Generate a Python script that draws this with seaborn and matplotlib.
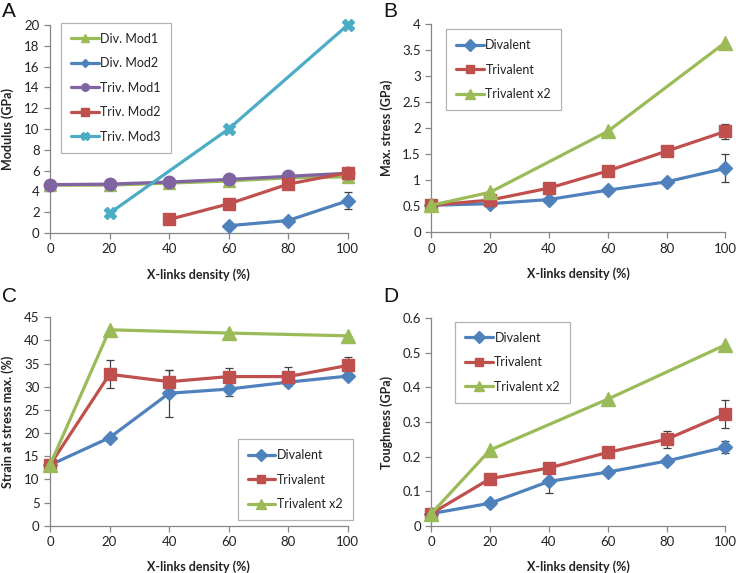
import numpy as np
import pandas as pd
import matplotlib
matplotlib.use("Agg")
import matplotlib.pyplot as plt
from matplotlib.ticker import FuncFormatter, MultipleLocator
import seaborn as sns

# ---------------- data ----------------
x_all = [0, 20, 40, 60, 80, 100]

# Panel A: Modulus (GPa)
a_div_mod1_x = [0, 20, 40, 60, 80, 100]
a_div_mod1_y = [4.6, 4.6, 4.8, 5.0, 5.3, 5.4]
a_div_mod2_x = [60, 80, 100]
a_div_mod2_y = [0.7, 1.2, 3.1]
a_div_mod2_err = [0.0, 0.0, 0.8]
a_triv_mod1_x = [0, 20, 40, 60, 80, 100]
a_triv_mod1_y = [4.65, 4.7, 4.9, 5.15, 5.45, 5.75]
a_triv_mod2_x = [40, 60, 80, 100]
a_triv_mod2_y = [1.3, 2.8, 4.7, 5.8]
a_triv_mod3_x = [20, 60, 100]
a_triv_mod3_y = [1.9, 10.0, 20.0]

# Panel B: Max. stress (GPa)
b_div_y = [0.52, 0.55, 0.63, 0.81, 0.97, 1.23]
b_div_err = [0, 0, 0, 0, 0, 0.27]
b_tri_y = [0.52, 0.62, 0.85, 1.18, 1.56, 1.94]
b_tri_err = [0, 0, 0, 0, 0, 0.14]
b_tri2_x = [0, 20, 60, 100]
b_tri2_y = [0.52, 0.77, 1.94, 3.65]

# Panel C: Strain at stress max (%)
c_div_y = [13.1, 19.0, 28.6, 29.5, 31.0, 32.3]
c_div_err = [0, 0, 5.1, 1.4, 0.6, 0.5]
c_tri_y = [13.1, 32.7, 31.1, 32.2, 32.2, 34.6]
c_tri_err = [0, 3.0, 2.6, 1.9, 2.0, 1.8]
c_tri2_x = [0, 20, 60, 100]
c_tri2_y = [13.1, 42.3, 41.6, 41.0]

# Panel D: Toughness (GPa)
d_div_y = [0.035, 0.065, 0.128, 0.155, 0.187, 0.227]
d_div_err = [0, 0, 0.033, 0, 0, 0.017]
d_tri_y = [0.035, 0.136, 0.167, 0.212, 0.250, 0.323]
d_tri_err = [0, 0, 0, 0.015, 0.025, 0.041]
d_tri2_x = [0, 20, 60, 100]
d_tri2_y = [0.035, 0.219, 0.366, 0.523]

xlabel = "X-links density (%)"

# ---------------- style ----------------
sns.set_style("ticks")
plt.rcParams["font.family"] = ["Lato", "DejaVu Sans"]

BLUE = "#4F81BD"
RED = "#C0504D"
GREEN = "#9BBB59"
PURPLE = "#8064A2"
CYAN = "#4BACC6"
AXC = "#868686"
ERRC = "#404040"

fig = plt.figure(figsize=(7.36, 5.73), dpi=100)

def make_ax(l, r, t, b):
    return fig.add_axes([l / 736, 1 - b / 573, (r - l) / 736, (b - t) / 573])

axA = make_ax(50, 347.7, 25, 233)
axB = make_ax(431.3, 725.3, 24.3, 232.3)
axC = make_ax(50, 347.7, 317.3, 525.7)
axD = make_ax(431.3, 725.3, 318.3, 525.7)

def series(ax, x, y, color, marker, ms, label, err=None):
    df = pd.DataFrame({"x": x, "y": y})
    if err is not None:
        e = np.array(err, dtype=float)
        m = e > 0
        eb = ax.errorbar(np.array(x)[m], np.array(y)[m], yerr=e[m], fmt="none",
                         ecolor=ERRC, elinewidth=0.9, capsize=3, capthick=0.9, zorder=2)
        for art in eb.lines[1] + eb.lines[2]:
            art.set_clip_on(False)
    sns.lineplot(data=df, x="x", y="y", ax=ax, color=color, marker=marker,
                 markersize=ms, markeredgecolor=color, markeredgewidth=1.0,
                 linewidth=2.3, label=label, clip_on=False, zorder=3,
                 errorbar=None, sort=False)

def style_ax(ax, ymax, ystep, ylabel):
    ax.set_xlim(0, 100)
    ax.set_ylim(0, ymax)
    ax.xaxis.set_major_locator(MultipleLocator(20))
    ax.yaxis.set_major_locator(MultipleLocator(ystep))
    ax.yaxis.set_major_formatter(FuncFormatter(lambda v, p: f"{v:g}"))
    for s in ["top", "right"]:
        ax.spines[s].set_visible(False)
    for s in ["left", "bottom"]:
        ax.spines[s].set_color(AXC)
        ax.spines[s].set_linewidth(0.9)
    ax.tick_params(axis="both", colors=AXC, labelcolor="#222222", labelsize=9.5,
                   length=4, width=0.9, direction="out")
    ax.set_xlabel(xlabel, fontsize=9, fontweight="bold", labelpad=9, color="#222222")
    ax.set_ylabel(ylabel, fontsize=9, fontweight="bold", labelpad=7, color="#222222")

def legend(ax, loc, anchor, markerscale=0.75):
    lg = ax.legend(loc=loc, bbox_to_anchor=anchor, frameon=True, fancybox=False,
                   edgecolor="#A0A0A0", fontsize=9, handlelength=2.2,
                   handletextpad=0.15, labelspacing=1.0, borderpad=0.8,
                   markerscale=markerscale, borderaxespad=0)
    lg.get_frame().set_linewidth(0.9)
    for t in lg.get_texts():
        t.set_color("#222222")
    return lg

# Panel A
series(axA, a_div_mod1_x, a_div_mod1_y, GREEN, "^", 9, "Div. Mod1")
series(axA, a_div_mod2_x, a_div_mod2_y, BLUE, "D", 7.5, "Div. Mod2", a_div_mod2_err)
series(axA, a_triv_mod1_x, a_triv_mod1_y, PURPLE, "o", 9, "Triv. Mod1")
series(axA, a_triv_mod2_x, a_triv_mod2_y, RED, "s", 8.5, "Triv. Mod2")
series(axA, a_triv_mod3_x, a_triv_mod3_y, CYAN, "X", 9, "Triv. Mod3")
style_ax(axA, 20, 2, "Modulus (GPa)")
legend(axA, "upper left", ((61 - 50) / 297.7, 1 - (22.7 - 25) / 208), markerscale=0.6)

# Panel B
series(axB, x_all, b_div_y, BLUE, "D", 7.5, "Divalent", b_div_err)
series(axB, x_all, b_tri_y, RED, "s", 8.5, "Trivalent", b_tri_err)
series(axB, b_tri2_x, b_tri2_y, GREEN, "^", 10, "Trivalent x2")
style_ax(axB, 4, 0.5, "Max. stress (GPa)")
legend(axB, "upper left", ((446 - 431.3) / 294, 1 - (29 - 24.3) / 208))

# Panel C
series(axC, x_all, c_div_y, BLUE, "D", 7.5, "Divalent", c_div_err)
series(axC, x_all, c_tri_y, RED, "s", 8.5, "Trivalent", c_tri_err)
series(axC, c_tri2_x, c_tri2_y, GREEN, "^", 10, "Trivalent x2")
style_ax(axC, 45, 5, "Strain at stress max. (%)")
legend(axC, "lower right", ((352.7 - 50) / 297.7, (525.7 - 520) / 208.4))

# Panel D
series(axD, x_all, d_div_y, BLUE, "D", 7.5, "Divalent", d_div_err)
series(axD, x_all, d_tri_y, RED, "s", 8.5, "Trivalent", d_tri_err)
series(axD, d_tri2_x, d_tri2_y, GREEN, "^", 10, "Trivalent x2")
style_ax(axD, 0.6, 0.1, "Toughness (GPa)")
legend(axD, "upper left", ((455 - 431.3) / 294, 1 - (321.7 - 318.3) / 207.4))

# Panel letters
for txt, px, py in [("A", 2, 2), ("B", 383, 2), ("C", 2, 287), ("D", 383, 287)]:
    fig.text(px / 736, 1 - py / 573, txt, fontsize=15, family=["Liberation Sans", "DejaVu Sans"],
             ha="left", va="top", color="#111111")

fig.savefig("out.png", dpi=100)
